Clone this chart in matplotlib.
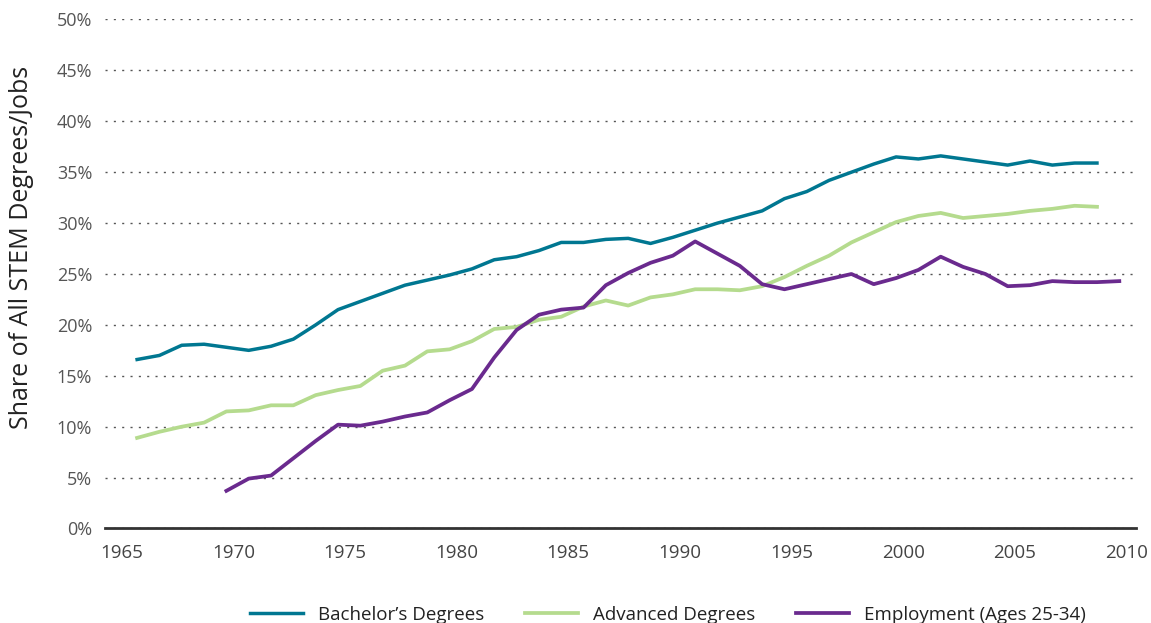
import matplotlib
matplotlib.use('Agg')
import matplotlib.pyplot as plt
import matplotlib.transforms as mtransforms
from matplotlib.ticker import FuncFormatter

# data (share of all STEM degrees/jobs, %)
years_ba = list(range(1966, 2010))
bachelors = [16.6, 17.0, 18.0, 18.1, 17.8, 17.5, 17.9, 18.6, 20.0, 21.5,
             22.3, 23.1, 23.9, 24.4, 24.9, 25.5, 26.4, 26.7, 27.3, 28.1,
             28.1, 28.4, 28.5, 28.0, 28.6, 29.3, 30.0, 30.6, 31.2, 32.4,
             33.1, 34.2, 35.0, 35.8, 36.5, 36.3, 36.6, 36.3, 36.0, 35.7,
             36.1, 35.7, 35.9, 35.9]
years_adv = list(range(1966, 2010))
advanced = [8.9, 9.5, 10.0, 10.4, 11.5, 11.6, 12.1, 12.1, 13.1, 13.6,
            14.0, 15.5, 16.0, 17.4, 17.6, 18.4, 19.6, 19.8, 20.5, 20.8,
            21.8, 22.4, 21.9, 22.7, 23.0, 23.5, 23.5, 23.4, 23.8, 24.7,
            25.8, 26.8, 28.1, 29.1, 30.1, 30.7, 31.0, 30.5, 30.7, 30.9,
            31.2, 31.4, 31.7, 31.6]
years_emp = list(range(1970, 2011))
employment = [3.7, 4.9, 5.2, 6.9, 8.6, 10.2, 10.1, 10.5, 11.0, 11.4,
              12.6, 13.7, 16.8, 19.5, 21.0, 21.5, 21.7, 23.9, 25.1, 26.1,
              26.8, 28.2, 27.0, 25.8, 24.0, 23.5, 24.0, 24.5, 25.0, 24.0,
              24.6, 25.4, 26.7, 25.7, 25.0, 23.8, 23.9, 24.3, 24.2, 24.2,
              24.3]
x_ticks = list(range(1965, 2011, 5))
y_ticks = list(range(0, 51, 5))

plt.rcParams['font.family'] = ['Open Sans', 'DejaVu Sans']

fig = plt.figure(figsize=(11.51, 6.23), dpi=100)
ax = fig.add_axes([0.091, 0.1517, 0.896, 0.817])

ax.plot(years_ba, bachelors, color='#007791', lw=2.5, label="Bachelor\u2019s Degrees")
ax.plot(years_adv, advanced, color='#b5db8e', lw=2.7, label='Advanced Degrees')
ax.plot(years_emp, employment, color='#6a2a8e', lw=2.7, label='Employment (Ages 25-34)')

ax.set_xlim(1964.55, 2010.75)
ax.set_ylim(0, 50)
ax.set_xticks(x_ticks)
ax.set_yticks(y_ticks)
ax.yaxis.set_major_formatter(FuncFormatter(lambda v, p: '%d%%' % v))

# dotted horizontal grid, only the bottom spine
ax.grid(axis='y', color='#555555', linestyle=(0, (1.5, 4.5)), lw=1.0)
ax.set_axisbelow(True)
for s in ['top', 'right', 'left']:
    ax.spines[s].set_visible(False)
ax.spines['bottom'].set_color('#333333')
ax.spines['bottom'].set_linewidth(2)

ax.tick_params(axis='both', length=0)
ax.tick_params(axis='y', pad=9, labelsize=13, labelcolor='#555555')
ax.tick_params(axis='x', pad=11, labelsize=13.5, labelcolor='#444444')
# year labels sit a little right of their ticks in the original
offset = mtransforms.ScaledTranslation(7 / 100, 0, fig.dpi_scale_trans)
for lbl in ax.get_xticklabels():
    lbl.set_transform(lbl.get_transform() + offset)

fig.text(22 / 1151, 0.6035, 'Share of All STEM Degrees/Jobs', rotation=90,
         ha='center', va='center', fontsize=18, color='#222222')

fig.legend(loc='center', bbox_to_anchor=(668 / 1151, 8 / 623), ncol=3,
           frameon=False, fontsize=13.5, handlelength=2.8, handletextpad=0.8,
           columnspacing=2.2, labelcolor='#222222')

fig.savefig('out.png', dpi=100)
